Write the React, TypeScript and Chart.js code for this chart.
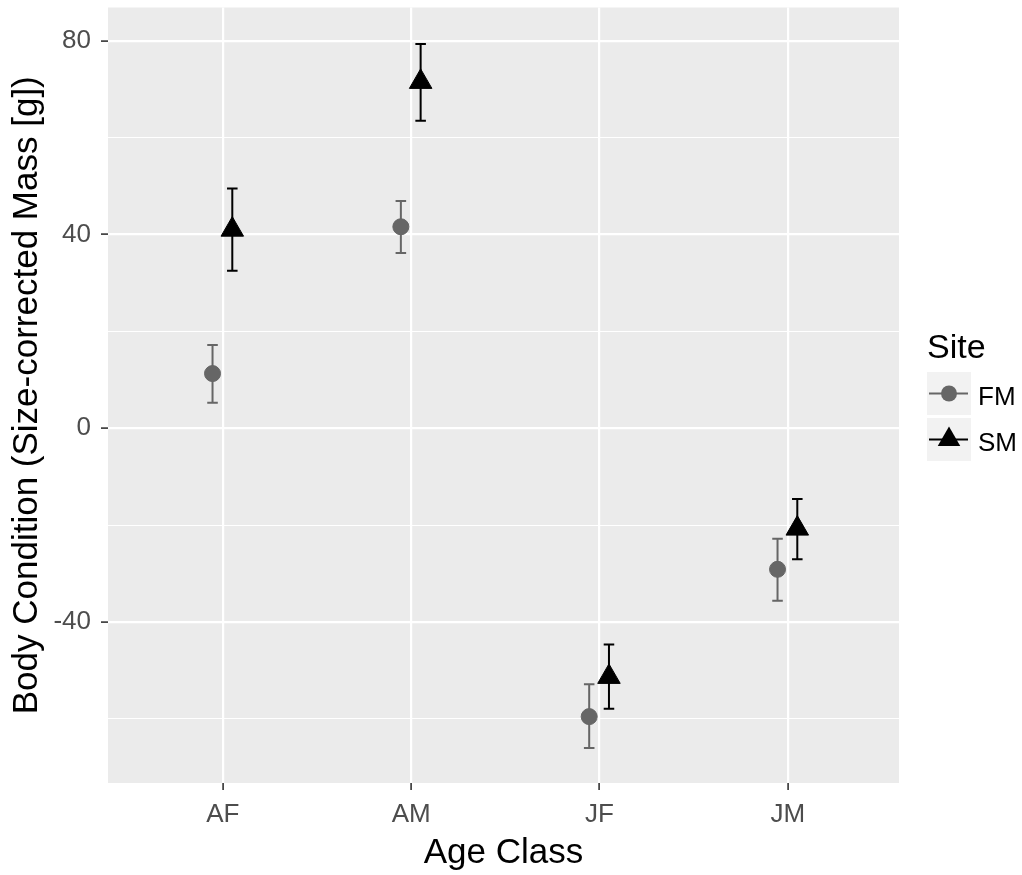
import React, { useEffect, useRef } from 'react';
import { Chart, registerables } from 'chart.js';

Chart.register(...registerables);

// ---- data ----
const categories = ['AF', 'AM', 'JF', 'JM'];
const seriesNames = ['FM', 'SM'];
const fmMean = [11.3, 41.6, -59.5, -29.1];
const fmLower = [5.3, 36.2, -66.0, -35.6];
const fmUpper = [17.2, 46.9, -52.8, -22.8];
const smMean = [41.0, 71.5, -51.3, -20.7];
const smLower = [32.5, 63.5, -57.9, -27.0];
const smUpper = [49.5, 79.3, -44.6, -14.6];
const yTickValues = [-60, -40, -20, 0, 20, 40, 60, 80];
const yLabelledTicks = [-40, 0, 40, 80];
const yMin = -73.2;
const yMax = 86.85;
const xMin = 0.39;
const xMax = 4.59;

const FONT = '"Liberation Sans", Arial, sans-serif';
const FM_COLOR = '#666666';
const SM_COLOR = '#000000';
const DODGE = [-0.055, 0.05];
const CAP_HALF = 0.028;

const panelBg = {
  id: 'panelBg',
  beforeDraw(chart: any) {
    const { ctx, chartArea } = chart;
    ctx.save();
    ctx.fillStyle = '#EBEBEB';
    ctx.fillRect(chartArea.left, chartArea.top, chartArea.right - chartArea.left, chartArea.bottom - chartArea.top);
    ctx.restore();
  },
};

const errorBars = {
  id: 'errorBars',
  beforeDatasetsDraw(chart: any) {
    const { ctx } = chart;
    const xs = chart.scales.x;
    const ys = chart.scales.y;
    chart.data.datasets.forEach((ds: any) => {
      ctx.save();
      ctx.strokeStyle = ds.borderColor;
      ctx.lineWidth = 2;
      ds.data.forEach((p: any, i: number) => {
        const x = xs.getPixelForValue(p.x);
        const xl = xs.getPixelForValue(p.x - CAP_HALF);
        const xr = xs.getPixelForValue(p.x + CAP_HALF);
        const yl = ys.getPixelForValue(ds.errLo[i]);
        const yh = ys.getPixelForValue(ds.errHi[i]);
        ctx.beginPath();
        ctx.moveTo(x, yl);
        ctx.lineTo(x, yh);
        ctx.moveTo(xl, yl);
        ctx.lineTo(xr, yl);
        ctx.moveTo(xl, yh);
        ctx.lineTo(xr, yh);
        ctx.stroke();
      });
      ctx.restore();
    });
  },
};

const ggLegend = {
  id: 'ggLegend',
  afterDraw(chart: any) {
    const { ctx } = chart;
    ctx.save();
    ctx.fillStyle = '#000';
    ctx.font = `34px ${FONT}`;
    ctx.textBaseline = 'alphabetic';
    ctx.textAlign = 'left';
    ctx.fillText('Site', 927, 358);
    const boxX = 927, boxW = 44, boxH = 43;
    const boxYs = [372, 418];
    seriesNames.forEach((name, i) => {
      const color = i === 0 ? FM_COLOR : SM_COLOR;
      const by = boxYs[i];
      ctx.fillStyle = '#F2F2F2';
      ctx.fillRect(boxX, by, boxW, boxH);
      const cy = by + boxH / 2;
      const cx = boxX + boxW / 2;
      ctx.strokeStyle = color;
      ctx.lineWidth = 2;
      ctx.beginPath();
      ctx.moveTo(boxX + 2, cy);
      ctx.lineTo(boxX + boxW - 3, cy);
      ctx.stroke();
      ctx.fillStyle = color;
      ctx.beginPath();
      if (i === 0) {
        ctx.arc(cx, cy, 8, 0, Math.PI * 2);
      } else {
        const r = 13;
        ctx.moveTo(cx, cy - r);
        ctx.lineTo(cx + r * 0.866, cy + r / 2);
        ctx.lineTo(cx - r * 0.866, cy + r / 2);
        ctx.closePath();
      }
      ctx.fill();
      ctx.fillStyle = '#000';
      ctx.font = `26px ${FONT}`;
      ctx.fillText(name, 978, by + 33);
    });
    ctx.restore();
  },
};

export default function App() {
  const ref = useRef<HTMLCanvasElement | null>(null);
  useEffect(() => {
    if (!ref.current) return;
    const mk = (mean: number[], k: number) => mean.map((v, i) => ({ x: i + 1 + DODGE[k], y: v }));
    const chart = new Chart(ref.current, {
      type: 'scatter',
      data: {
        datasets: [
          {
            label: seriesNames[0],
            data: mk(fmMean, 0),
            errLo: fmLower,
            errHi: fmUpper,
            backgroundColor: FM_COLOR,
            borderColor: FM_COLOR,
            pointStyle: 'circle',
            pointRadius: 8,
            borderWidth: 1,
          } as any,
          {
            label: seriesNames[1],
            data: mk(smMean, 1),
            errLo: smLower,
            errHi: smUpper,
            backgroundColor: SM_COLOR,
            borderColor: SM_COLOR,
            pointStyle: 'triangle',
            pointRadius: 13,
            borderWidth: 1,
          } as any,
        ],
      },
      options: {
        animation: false,
        responsive: true,
        maintainAspectRatio: false,
        layout: { autoPadding: false, padding: { left: 0, right: 123, top: 7.5, bottom: 0 } },
        plugins: { legend: { display: false }, tooltip: { enabled: false } },
        scales: {
          x: {
            type: 'linear',
            min: xMin,
            max: xMax,
            afterBuildTicks: (s: any) => {
              s.ticks = categories.map((_, i) => ({ value: i + 1 }));
            },
            afterFit: (s: any) => {
              s.height = 92;
              s.paddingLeft = 0;
              s.paddingRight = 0;
            },
            border: { display: false },
            grid: {
              color: '#FFFFFF',
              lineWidth: 2.2,
              drawTicks: true,
              tickLength: 7,
              tickColor: '#333333',
              tickWidth: 1.6,
            },
            ticks: {
              autoSkip: false,
              maxRotation: 0,
              padding: 12,
              color: '#4D4D4D',
              font: { family: FONT, size: 26, lineHeight: 1 },
              callback: (v: any) => categories[Math.round(Number(v)) - 1] ?? '',
            },
            title: {
              display: true,
              text: 'Age Class',
              color: '#000000',
              font: { family: FONT, size: 35, lineHeight: 1 },
              padding: { top: 0, bottom: 4.5 },
            },
          },
          y: {
            type: 'linear',
            min: yMin,
            max: yMax,
            afterBuildTicks: (s: any) => {
              s.ticks = yTickValues.map((v) => ({ value: v }));
            },
            afterFit: (s: any) => {
              s.width = 108;
              s.paddingTop = 0;
              s.paddingBottom = 0;
            },
            border: { display: false },
            grid: {
              color: '#FFFFFF',
              lineWidth: (c: any) => (yLabelledTicks.includes(c.tick?.value) ? 2.2 : 1.1),
              drawTicks: true,
              tickLength: 7,
              tickColor: (c: any) => (yLabelledTicks.includes(c.tick?.value) ? '#333333' : 'rgba(0,0,0,0)'),
              tickWidth: 1.6,
            },
            ticks: {
              autoSkip: false,
              padding: 10,
              color: '#4D4D4D',
              font: { family: FONT, size: 26, lineHeight: 1 },
              callback: (v: any) => (yLabelledTicks.includes(Number(v)) ? String(v) : ''),
            },
            title: {
              display: true,
              text: 'Body Condition (Size-corrected Mass [g])',
              color: '#000000',
              font: { family: FONT, size: 35, lineHeight: 1 },
              padding: { top: 9.5, bottom: 0 },
            },
          },
        },
      },
      plugins: [panelBg, errorBars, ggLegend],
    } as any);
    return () => chart.destroy();
  }, []);
  return (
    <div style={{ position: 'fixed', left: 0, top: 0, width: 1022, height: 875, background: '#FFFFFF' }}>
      <canvas ref={ref} />
    </div>
  );
}
